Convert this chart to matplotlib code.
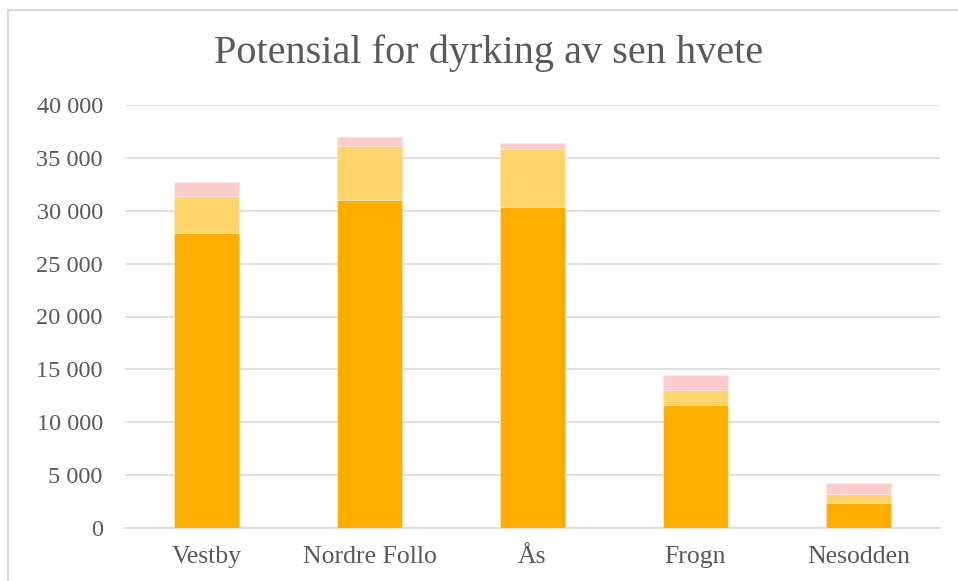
import matplotlib.pyplot as plt
import matplotlib.ticker as mticker
from matplotlib.patches import Rectangle

# Data (stacked)
kommuner = ["Vestby", "Nordre Follo", "Ås", "Frogn", "Nesodden"]
serie_1 = [27900, 31000, 30350, 11650, 2330]
serie_2 = [3500, 5100, 5500, 1370, 880]
serie_3 = [1300, 900, 600, 1420, 1010]

farger = ["#FFAE00", "#FFD56B", "#FFCCCC"]
tekstfarge = "#595959"
font = "Liberation Serif"

fig = plt.figure(figsize=(9.58, 5.81), dpi=100)
ax = fig.add_axes([125 / 958, 1 - 528 / 581, 815 / 958, 423 / 581])

# Outer chart border (cropped on right and bottom, as in the screenshot)
fig.patches.append(Rectangle((8 / 958, -0.1), 1.2, 1 - 10 / 581 + 0.1,
                             transform=fig.transFigure, fill=False,
                             edgecolor="#D9D9D9", linewidth=1.5))

x = range(len(kommuner))
bunn2 = [a for a in serie_1]
bunn3 = [a + b for a, b in zip(serie_1, serie_2)]

ax.bar(x, serie_1, width=0.4, color=farger[0], edgecolor="#FFE9B8", linewidth=0.5, zorder=3)
ax.bar(x, serie_2, width=0.4, bottom=bunn2, color=farger[1], edgecolor="#FFF0C8", linewidth=0.5, zorder=3)
ax.bar(x, serie_3, width=0.4, bottom=bunn3, color=farger[2], edgecolor="#FFE4E4", linewidth=0.5, zorder=3)

ax.set_xlim(-0.5, len(kommuner) - 0.5)
ax.set_ylim(0, 40000)
ax.yaxis.set_major_locator(mticker.MultipleLocator(5000))
ax.yaxis.set_major_formatter(mticker.FuncFormatter(lambda v, p: f"{int(v):,}".replace(",", " ")))

ax.grid(axis="y", color="#D9D9D9", linewidth=1.2, zorder=0)
ax.set_axisbelow(True)
for s in ["top", "right", "left"]:
    ax.spines[s].set_visible(False)
ax.spines["bottom"].set_color("#D9D9D9")
ax.spines["bottom"].set_linewidth(1.2)

ax.set_xticks(list(x))
ax.set_xticklabels(kommuner)
ax.tick_params(axis="both", length=0, colors=tekstfarge)
ax.tick_params(axis="y", pad=16, labelsize=17.5)
ax.tick_params(axis="x", pad=13, labelsize=18.5)
for lbl in ax.get_xticklabels() + ax.get_yticklabels():
    lbl.set_fontfamily(font)

fig.text(489 / 958, 1 - 53 / 581, "Potensial for dyrking av sen hvete",
         ha="center", va="center", fontsize=29, color=tekstfarge, family=font)

fig.savefig("out.png", dpi=100)
